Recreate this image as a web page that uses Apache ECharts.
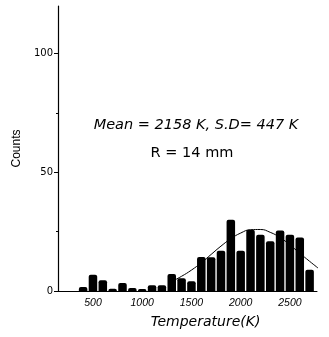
<!DOCTYPE html>
<html>
<head>
<meta charset="utf-8">
<script src="https://cdn.jsdelivr.net/npm/echarts@6/dist/echarts.min.js"></script>
<style>
html,body{margin:0;padding:0;background:#fff;}
#c{width:329px;height:337px;}
</style>
</head>
<body>
<div id="c"></div>
<script>
// Histogram bin centres (K) and counts
const binCenters = [400,500,600,700,800,900,1000,1100,1200,1300,1400,1500,1600,1700,1800,1900,2000,2100,2200,2300,2400,2500,2600,2700];
const counts     = [1.7,6.8,4.5,0.9,3.4,1.3,0.8,2.4,2.4,7.2,5.4,4.1,14.3,14.2,17,30,17,25.8,23.7,20.9,25.5,23.7,22.5,9];
// Fitted curve
const curveT      = [1300,1400,1500,1600,1700,1800,1900,2000,2100,2200,2300,2400,2500,2600,2700,2800];
const curveCounts = [4,6.2,8.8,11.9,15.4,18.9,22,24.4,25.8,25.9,24.7,22.5,19.4,15.9,12.5,9.2];
const xTickLabels = [500,1000,1500,2000,2500];
const yTickLabels = [0,50,100];
const annotation1 = 'Mean = 2158 K, S.D= 447 K';
const annotation2 = 'R = 14 mm';

const chart = echarts.init(document.getElementById('c'));
const sans = '"Liberation Sans", Arial, sans-serif';
const wide = '"DejaVu Sans", sans-serif';
chart.setOption({
  animation:false,
  backgroundColor:'#fff',
  grid:{left:58,right:12,top:6,bottom:46},
  xAxis:{
    type:'value', min:145, max:2775,
    name:'Temperature(K)', nameLocation:'middle', nameGap:24,
    nameTextStyle:{fontFamily:wide,fontStyle:'italic',fontSize:14,color:'#000',padding:[0,0,0,36],verticalAlign:'top'},
    axisLine:{show:true,onZero:false,lineStyle:{color:'#000',width:1}},
    axisTick:{show:false},
    splitLine:{show:false},
    axisLabel:{customValues:xTickLabels,formatter:v=>String(v),fontFamily:sans,fontStyle:'italic',fontSize:10.5,color:'#000',margin:7}
  },
  yAxis:{
    type:'value', min:0, max:120, interval:50,
    name:'Counts', nameLocation:'middle', nameGap:31, nameRotate:90,
    nameTextStyle:{fontFamily:sans,fontSize:12,color:'#000'},
    axisLine:{show:true,lineStyle:{color:'#000',width:1.2}},
    axisTick:{show:true,length:4,lineStyle:{color:'#000'},customValues:yTickLabels},
    minorTick:{show:true,splitNumber:2,length:2,lineStyle:{color:'#000'}},
    splitLine:{show:false},
    axisLabel:{customValues:yTickLabels,formatter:v=>String(v),fontFamily:wide,fontSize:10,color:'#000',margin:5}
  },
  graphic:[
    {type:'text',x:196,y:125,style:{text:annotation1,font:'italic 14.5px "DejaVu Sans", sans-serif',fill:'#000',textAlign:'center',textVerticalAlign:'middle'}},
    {type:'text',x:192,y:153,style:{text:annotation2,font:'14.5px "DejaVu Sans", sans-serif',fill:'#000',textAlign:'center',textVerticalAlign:'middle'}}
  ],
  series:[
    {type:'line',data:curveT.map((t,i)=>[t,curveCounts[i]]),smooth:true,symbol:'none',
     lineStyle:{color:'#000',width:1},z:1},
    {type:'bar',data:binCenters.map((t,i)=>[t,counts[i]]),barWidth:8.5,
     itemStyle:{color:'#000',borderRadius:[2,2,0,0]},z:2}
  ]
});
</script>
</body>
</html>
